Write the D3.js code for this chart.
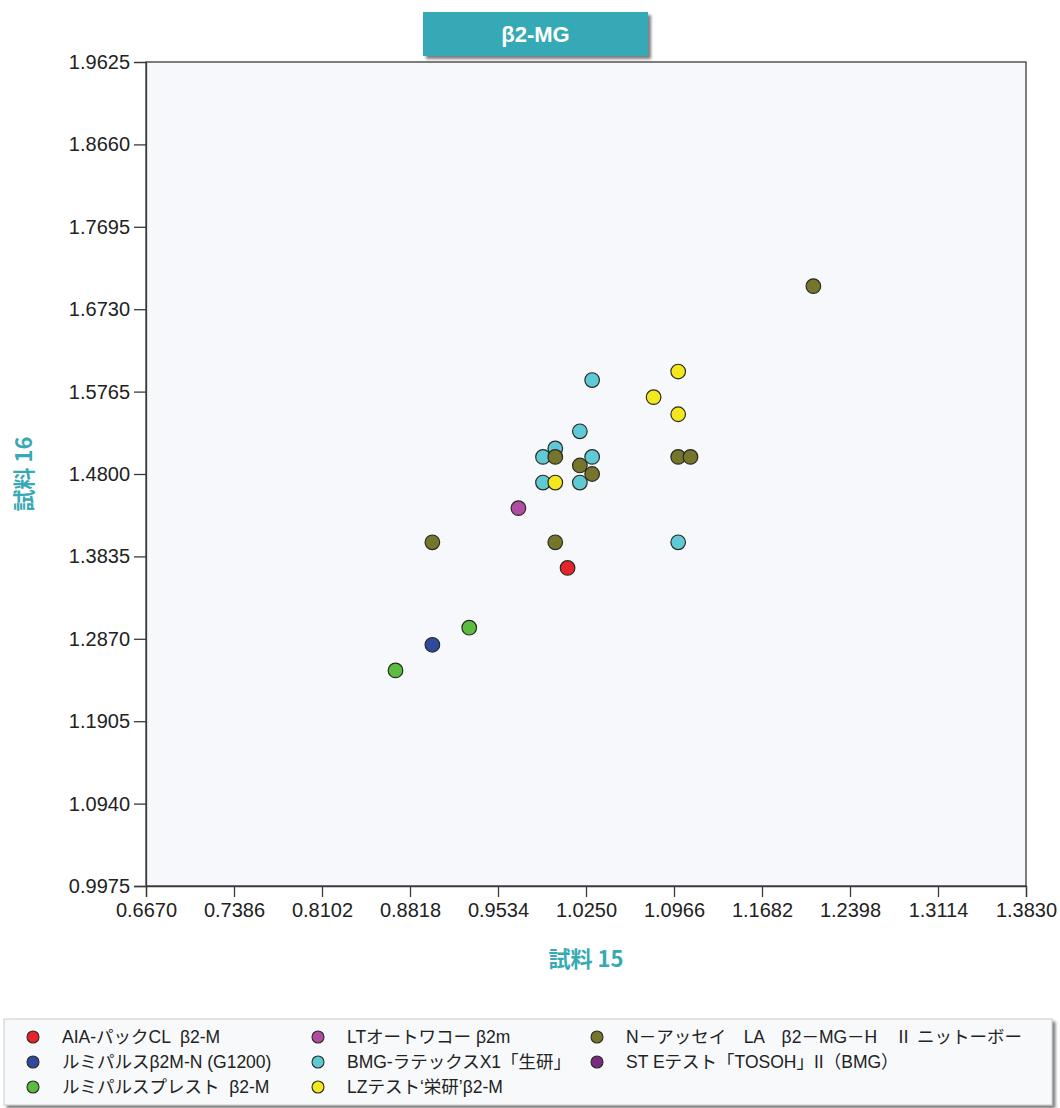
<!DOCTYPE html>
<html>
<head>
<meta charset="utf-8">
<script src="https://cdn.jsdelivr.net/npm/d3@7"></script>
<style>
  body { margin: 0; background: #ffffff; }
  svg { display: block; }
</style>
</head>
<body>
<svg id="chart" width="1060" height="1108"></svg>
<script>
// ---- data ----
const chartTitle = "β2-MG";
const xAxisTitle = "試料 15";
const yAxisTitle = "試料 16";

const xTickValues = [0.6670, 0.7386, 0.8102, 0.8818, 0.9534, 1.0250, 1.0966, 1.1682, 1.2398, 1.3114, 1.3830];
const yTickValues = [0.9975, 1.0940, 1.1905, 1.2870, 1.3835, 1.4800, 1.5765, 1.6730, 1.7695, 1.8660, 1.9625];

const seriesNames = [
  "AIA-パックCL  β2-M",
  "ルミパルスβ2M-N (G1200)",
  "ルミパルスプレスト  β2-M",
  "LTオートワコー β2m",
  "BMG-ラテックスX1「生研」",
  "LZテスト‘栄研’β2-M",
  "N－アッセイ　LA　β2－MG－H　Ⅱ ニットーボー",
  "ST Eテスト「TOSOH」II（BMG）"
];
const seriesColors = ["#e8242b", "#2f4a9c", "#5bbd3f", "#b24ca3", "#5fcad6", "#f3e71d", "#76752c", "#7a2a80"];

const aiaX = [1.01],  aiaY = [1.37];
const lumiNX = [0.90], lumiNY = [1.28];
const lumiPX = [0.93, 0.87], lumiPY = [1.30, 1.25];
const ltX = [0.97], ltY = [1.44];
const bmgX = [1.03, 1.02, 1.00, 0.99, 1.03, 0.99, 1.02, 1.10];
const bmgY = [1.59, 1.53, 1.51, 1.50, 1.50, 1.47, 1.47, 1.40];
const lzX = [1.10, 1.08, 1.10, 1.00];
const lzY = [1.60, 1.57, 1.55, 1.47];
const nAssayX = [1.21, 1.10, 1.11, 1.00, 1.02, 1.03, 0.90, 1.00];
const nAssayY = [1.70, 1.50, 1.50, 1.50, 1.49, 1.48, 1.40, 1.40];
const stX = [], stY = [];

const seriesX = [aiaX, lumiNX, lumiPX, ltX, bmgX, lzX, nAssayX, stX];
const seriesY = [aiaY, lumiNY, lumiPY, ltY, bmgY, lzY, nAssayY, stY];

// ---- layout ----
const svg = d3.select("#chart");
const plot = { left: 146, top: 62, width: 880, height: 824 };
const latinFont = "'Liberation Sans', Arial, 'Noto Sans CJK JP', sans-serif";
const teal = "#36a9b5";

const defs = svg.append("defs");
const shadow = defs.append("filter").attr("id", "shadow")
  .attr("x", "-5%").attr("y", "-20%").attr("width", "115%").attr("height", "160%");
shadow.append("feDropShadow").attr("dx", 3).attr("dy", 3)
  .attr("stdDeviation", 1.5).attr("flood-color", "#555").attr("flood-opacity", 0.75);

const x = d3.scaleLinear()
  .domain([xTickValues[0], xTickValues[xTickValues.length - 1]])
  .range([plot.left, plot.left + plot.width]);
const y = d3.scaleLinear()
  .domain([yTickValues[0], yTickValues[yTickValues.length - 1]])
  .range([plot.top + plot.height, plot.top]);

// plot background and frame
svg.append("rect")
  .attr("x", plot.left).attr("y", plot.top)
  .attr("width", plot.width).attr("height", plot.height)
  .attr("fill", "#f7f8fb").attr("stroke", "#3a3a3a").attr("stroke-width", 1.3);

// axes
const xAxis = d3.axisBottom(x).tickValues(xTickValues)
  .tickFormat(d3.format(".4f")).tickSize(11).tickPadding(6);
const yAxis = d3.axisLeft(y).tickValues(yTickValues)
  .tickFormat(d3.format(".4f")).tickSize(12).tickPadding(4);

const gx = svg.append("g")
  .attr("transform", `translate(0,${plot.top + plot.height})`).call(xAxis);
const gy = svg.append("g")
  .attr("transform", `translate(${plot.left},0)`).call(yAxis);

[gx, gy].forEach(g => {
  g.select(".domain").attr("stroke", "#3a3a3a").attr("stroke-width", 1.3);
  g.selectAll(".tick line").attr("stroke", "#3a3a3a").attr("stroke-width", 1.3);
  g.selectAll(".tick text")
    .attr("fill", "#222")
    .style("font-family", latinFont)
    .style("font-size", "20px");
});
// top tick of the y axis sits on the frame, so it has no tick mark
gy.selectAll(".tick").filter(d => d === yTickValues[yTickValues.length - 1])
  .select("line").remove();

// points, drawn series by series in legend order
const pointData = [];
seriesX.forEach((xs, i) => {
  xs.forEach((xv, j) => pointData.push({ s: i, x: xv, y: seriesY[i][j] }));
});
svg.append("g").selectAll("circle")
  .data(pointData).join("circle")
  .attr("cx", d => x(d.x))
  .attr("cy", d => y(d.y))
  .attr("r", 7.3)
  .attr("fill", d => seriesColors[d.s])
  .attr("stroke", "#2a2a22")
  .attr("stroke-width", 1.2);

// title box
const titleBox = { x: 423, y: 12, w: 225, h: 44 };
svg.append("rect")
  .attr("x", titleBox.x).attr("y", titleBox.y)
  .attr("width", titleBox.w).attr("height", titleBox.h)
  .attr("fill", teal).attr("filter", "url(#shadow)");
svg.append("text")
  .attr("x", titleBox.x + titleBox.w / 2).attr("y", titleBox.y + titleBox.h / 2 + 8)
  .attr("text-anchor", "middle")
  .attr("fill", "#ffffff")
  .style("font-family", latinFont)
  .style("font-size", "22px").style("font-weight", "bold")
  .text(chartTitle);

// axis titles
svg.append("text")
  .attr("x", plot.left + plot.width / 2 - 0).attr("y", 967)
  .attr("text-anchor", "middle")
  .attr("fill", teal)
  .style("font-family", "'Noto Sans CJK JP', sans-serif")
  .style("font-size", "22px").style("font-weight", "bold")
  .text(xAxisTitle);
svg.append("text")
  .attr("transform", `translate(32,${plot.top + plot.height / 2}) rotate(-90)`)
  .attr("text-anchor", "middle")
  .attr("fill", teal)
  .style("font-family", "'Noto Sans CJK JP', sans-serif")
  .style("font-size", "22px").style("font-weight", "bold")
  .text(yAxisTitle);

// legend
const legendBox = { x: 4, y: 1019, w: 1048, h: 86 };
svg.append("rect")
  .attr("x", legendBox.x).attr("y", legendBox.y)
  .attr("width", legendBox.w).attr("height", legendBox.h)
  .attr("fill", "#f8f9fb").attr("stroke", "#c9cbd0").attr("stroke-width", 1)
  .attr("filter", "url(#shadow)");

const colX = [33, 318, 597];
const rowY = [1037, 1062, 1087];
const legendItems = seriesNames.map((name, i) => ({
  name, color: seriesColors[i],
  cx: colX[Math.floor(i / 3)], cy: rowY[i % 3]
}));
const li = svg.append("g").selectAll("g")
  .data(legendItems).join("g")
  .attr("transform", d => `translate(${d.cx},${d.cy})`);
li.append("circle")
  .attr("r", 6).attr("fill", d => d.color)
  .attr("stroke", "#2a2a22").attr("stroke-width", 1.1);
li.append("text")
  .attr("x", 29).attr("y", 6)
  .attr("fill", "#222")
  .style("font-family", latinFont)
  .style("font-size", "17.5px")
  .style("white-space", "pre")
  .text(d => d.name);
</script>
</body>
</html>
